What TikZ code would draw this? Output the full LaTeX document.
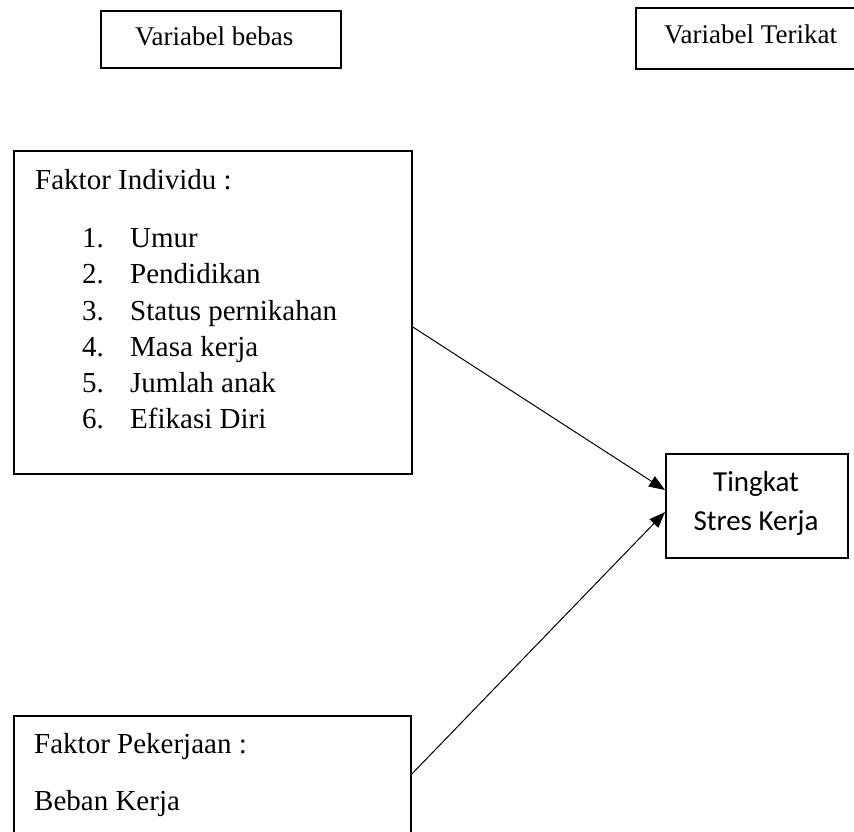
\documentclass[tikz,border=0pt]{standalone}
\usepackage{fontspec}
\setmainfont{Liberation Serif}
\newfontfamily\calib{Carlito}
\usetikzlibrary{arrows.meta}
\begin{document}
\begin{tikzpicture}[x=1pt,y=-1pt,
  box/.style={draw=black,line width=1.8pt,inner sep=0pt,anchor=north west},
  htxt/.style={inner sep=0pt,anchor=base west,font=\fontsize{27pt}{32pt}\selectfont},
  txt/.style={inner sep=0pt,anchor=base west,font=\fontsize{29pt}{34pt}\selectfont},
  ctxt/.style={inner sep=0pt,anchor=base,font=\calib\fontsize{29pt}{34pt}\selectfont},
  conn/.style={draw=black,line width=1pt,-{Triangle[length=16pt,width=12pt]}}]
\useasboundingbox (0,0) rectangle (854,831);
\clip (0,0) rectangle (854,831);
% boxes
\node[box,minimum width=240pt,minimum height=57pt] (bebas) at (100,10) {};
\node[box,minimum width=240pt,minimum height=61pt] (terikat) at (635,7) {};
\node[box,minimum width=398pt,minimum height=323pt] (indiv) at (13,150) {};
\node[box,minimum width=182pt,minimum height=104pt] (tingkat) at (665,453) {};
\node[box,minimum width=397pt,minimum height=140pt] (kerja) at (13,715) {};
% texts
\node[htxt] (t1) at (135,45) {Variabel bebas};
\node[htxt] (t2) at (664,43) {Variabel Terikat};
\node[txt] (t3) at (35,189) {Faktor Individu :};
\node[txt] (n1) at (82,247) {1.};
\node[txt] (i1) at (130,247) {Umur};
\node[txt] (n2) at (82,283) {2.};
\node[txt] (i2) at (130,283) {Pendidikan};
\node[txt] (n3) at (82,320) {3.};
\node[txt] (i3) at (130,320) {Status pernikahan};
\node[txt] (n4) at (82,356) {4.};
\node[txt] (i4) at (130,356) {Masa kerja};
\node[txt] (n5) at (82,392) {5.};
\node[txt] (i5) at (130,392) {Jumlah anak};
\node[txt] (n6) at (82,428) {6.};
\node[txt] (i6) at (130,428) {Efikasi Diri};
\node[txt] (t4) at (34,753) {Faktor Pekerjaan :};
\node[txt] (t5) at (34,810) {Beban Kerja};
\node[ctxt] (t6) at (756,491) {Tingkat};
\node[ctxt] (t7) at (756,530) {Stres Kerja};
% connectors
\coordinate (s1) at (indiv.east |- 0,327);
\coordinate (e1) at (tingkat.west |- 0,490);
\coordinate (s2) at (kerja.east |- 0,774);
\coordinate (e2) at (tingkat.west |- 0,512);
\draw[conn] (s1) -- (e1);
\draw[conn] (s2) -- (e2);
\end{tikzpicture}
\end{document}
